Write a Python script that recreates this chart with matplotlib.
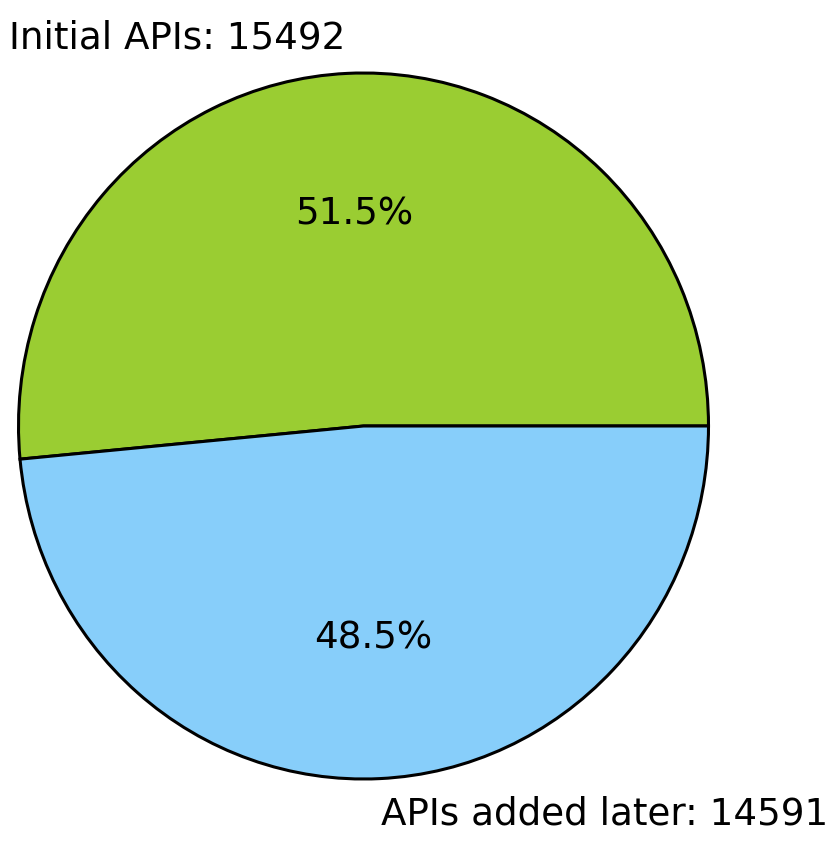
import matplotlib
matplotlib.use("Agg")
import matplotlib.pyplot as plt

labels = ["Initial APIs: 15492", "APIs added later: 14591"]
counts = [15492, 14591]
colors = ["yellowgreen", "lightskyblue"]

fig = plt.figure(figsize=(8.3, 8.47), dpi=100)
# pie is slightly taller than wide in the reference
ax = fig.add_axes([18.5 / 830, (847 - 426 - 353) / 847, 690 / 830, 706 / 847])

ax.pie(counts, labels=labels, colors=colors, autopct="%1.1f%%",
       startangle=0, counterclock=True,
       wedgeprops={"edgecolor": "black", "linewidth": 2.2},
       textprops={"fontsize": 26.8})
ax.set_aspect("auto")
ax.set_xlim(-1.0, 1.0)
ax.set_ylim(-1.0, 1.0)

fig.savefig("out.png", dpi=100)
